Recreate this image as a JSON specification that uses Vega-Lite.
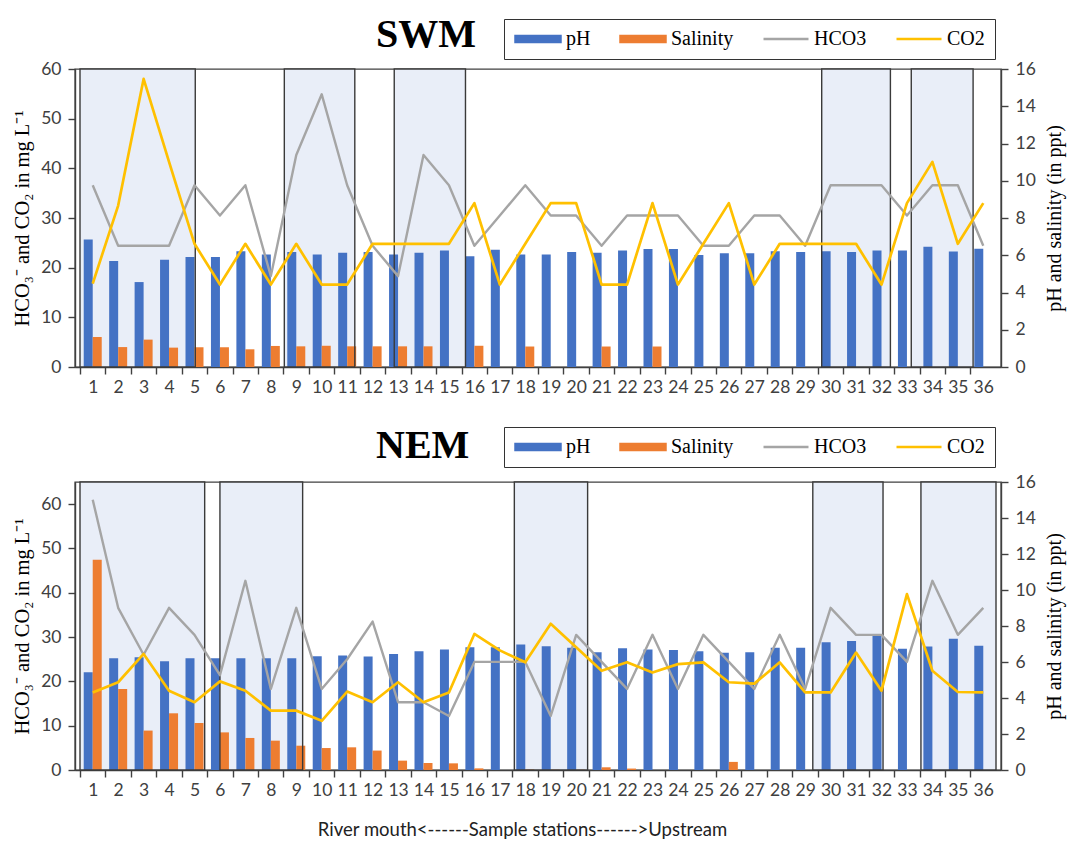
{
  "$schema": "https://vega.github.io/schema/vega-lite/v6.json",
  "padding": {"left": 12, "top": 13, "right": 4, "bottom": 2},
  "background": "white",
  "spacing": 115,
  "bounds": "flush",
  "resolve": {
    "scale": {"x": "independent", "y": "independent", "color": "independent"},
    "axis": {"x": "independent", "y": "independent"},
    "legend": {"color": "independent"}
  },
  "datasets": {
    "swm": [
      {"s": 1, "pH": 6.85, "sal": 1.61, "HCO3": 36.6, "CO2": 16.8},
      {"s": 2, "pH": 5.69, "sal": 1.07, "HCO3": 24.4, "CO2": 32.5},
      {"s": 3, "pH": 4.56, "sal": 1.47, "HCO3": 24.4, "CO2": 58.0},
      {"s": 4, "pH": 5.76, "sal": 1.04, "HCO3": 24.4, "CO2": 41.3},
      {"s": 5, "pH": 5.9, "sal": 1.06, "HCO3": 36.6, "CO2": 24.8},
      {"s": 6, "pH": 5.9, "sal": 1.06, "HCO3": 30.5, "CO2": 16.6},
      {"s": 7, "pH": 6.22, "sal": 0.95, "HCO3": 36.6, "CO2": 24.8},
      {"s": 8, "pH": 6.04, "sal": 1.13, "HCO3": 18.3, "CO2": 16.6},
      {"s": 9, "pH": 6.17, "sal": 1.11, "HCO3": 42.7, "CO2": 24.8},
      {"s": 10, "pH": 6.04, "sal": 1.14, "HCO3": 54.9, "CO2": 16.6},
      {"s": 11, "pH": 6.13, "sal": 1.11, "HCO3": 36.6, "CO2": 16.6},
      {"s": 12, "pH": 6.17, "sal": 1.11, "HCO3": 24.4, "CO2": 24.8},
      {"s": 13, "pH": 6.04, "sal": 1.11, "HCO3": 18.3, "CO2": 24.8},
      {"s": 14, "pH": 6.13, "sal": 1.11, "HCO3": 42.7, "CO2": 24.8},
      {"s": 15, "pH": 6.26, "sal": 0, "HCO3": 36.6, "CO2": 24.8},
      {"s": 16, "pH": 5.95, "sal": 1.14, "HCO3": 24.4, "CO2": 33.0},
      {"s": 17, "pH": 6.29, "sal": 0, "HCO3": 30.5, "CO2": 16.6},
      {"s": 18, "pH": 6.04, "sal": 1.1, "HCO3": 36.6, "CO2": 24.8},
      {"s": 19, "pH": 6.04, "sal": 0, "HCO3": 30.5, "CO2": 33.0},
      {"s": 20, "pH": 6.17, "sal": 0, "HCO3": 30.5, "CO2": 33.0},
      {"s": 21, "pH": 6.13, "sal": 1.1, "HCO3": 24.4, "CO2": 16.6},
      {"s": 22, "pH": 6.26, "sal": 0, "HCO3": 30.5, "CO2": 16.6},
      {"s": 23, "pH": 6.33, "sal": 1.1, "HCO3": 30.5, "CO2": 33.0},
      {"s": 24, "pH": 6.33, "sal": 0, "HCO3": 30.5, "CO2": 16.6},
      {"s": 25, "pH": 6.02, "sal": 0, "HCO3": 24.4, "CO2": 24.8},
      {"s": 26, "pH": 6.11, "sal": 0, "HCO3": 24.4, "CO2": 33.0},
      {"s": 27, "pH": 6.11, "sal": 0, "HCO3": 30.5, "CO2": 16.6},
      {"s": 28, "pH": 6.22, "sal": 0, "HCO3": 30.5, "CO2": 24.8},
      {"s": 29, "pH": 6.17, "sal": 0, "HCO3": 24.4, "CO2": 24.8},
      {"s": 30, "pH": 6.22, "sal": 0, "HCO3": 36.6, "CO2": 24.8},
      {"s": 31, "pH": 6.17, "sal": 0, "HCO3": 36.6, "CO2": 24.8},
      {"s": 32, "pH": 6.26, "sal": 0, "HCO3": 36.6, "CO2": 16.6},
      {"s": 33, "pH": 6.26, "sal": 0, "HCO3": 30.5, "CO2": 33.0},
      {"s": 34, "pH": 6.45, "sal": 0, "HCO3": 36.6, "CO2": 41.3},
      {"s": 35, "pH": 6.2, "sal": 0, "HCO3": 36.6, "CO2": 24.8},
      {"s": 36, "pH": 6.35, "sal": 0, "HCO3": 24.4, "CO2": 33.0}
    ],
    "nem": [
      {"s": 1, "pH": 5.43, "sal": 11.68, "HCO3": 61.0, "CO2": 17.5},
      {"s": 2, "pH": 6.21, "sal": 4.5, "HCO3": 36.6, "CO2": 19.8},
      {"s": 3, "pH": 6.27, "sal": 2.19, "HCO3": 26.0, "CO2": 26.2},
      {"s": 4, "pH": 6.04, "sal": 3.15, "HCO3": 36.6, "CO2": 17.9},
      {"s": 5, "pH": 6.21, "sal": 2.61, "HCO3": 30.5, "CO2": 15.3},
      {"s": 6, "pH": 6.21, "sal": 2.09, "HCO3": 21.4, "CO2": 20.0},
      {"s": 7, "pH": 6.21, "sal": 1.78, "HCO3": 42.7, "CO2": 17.9},
      {"s": 8, "pH": 6.21, "sal": 1.63, "HCO3": 18.3, "CO2": 13.4},
      {"s": 9, "pH": 6.21, "sal": 1.35, "HCO3": 36.6, "CO2": 13.4},
      {"s": 10, "pH": 6.32, "sal": 1.22, "HCO3": 18.3, "CO2": 11.1},
      {"s": 11, "pH": 6.36, "sal": 1.26, "HCO3": 25.0, "CO2": 17.7},
      {"s": 12, "pH": 6.3, "sal": 1.08, "HCO3": 33.5, "CO2": 15.3},
      {"s": 13, "pH": 6.45, "sal": 0.52, "HCO3": 15.3, "CO2": 19.8},
      {"s": 14, "pH": 6.6, "sal": 0.39, "HCO3": 15.3, "CO2": 15.3},
      {"s": 15, "pH": 6.69, "sal": 0.37, "HCO3": 12.2, "CO2": 17.5},
      {"s": 16, "pH": 6.82, "sal": 0.09, "HCO3": 24.4, "CO2": 30.7},
      {"s": 17, "pH": 6.82, "sal": 0, "HCO3": 24.4, "CO2": 27.0},
      {"s": 18, "pH": 6.97, "sal": 0.03, "HCO3": 24.4, "CO2": 24.3},
      {"s": 19, "pH": 6.88, "sal": 0.02, "HCO3": 12.2, "CO2": 33.0},
      {"s": 20, "pH": 6.79, "sal": 0.02, "HCO3": 30.5, "CO2": 27.7},
      {"s": 21, "pH": 6.54, "sal": 0.15, "HCO3": 24.4, "CO2": 22.4},
      {"s": 22, "pH": 6.77, "sal": 0.08, "HCO3": 18.3, "CO2": 24.3},
      {"s": 23, "pH": 6.69, "sal": 0, "HCO3": 30.5, "CO2": 22.0},
      {"s": 24, "pH": 6.67, "sal": 0, "HCO3": 18.3, "CO2": 23.9},
      {"s": 25, "pH": 6.6, "sal": 0, "HCO3": 30.5, "CO2": 24.3},
      {"s": 26, "pH": 6.51, "sal": 0.45, "HCO3": 24.4, "CO2": 19.8},
      {"s": 27, "pH": 6.54, "sal": 0, "HCO3": 18.3, "CO2": 19.5},
      {"s": 28, "pH": 6.79, "sal": 0, "HCO3": 30.5, "CO2": 24.3},
      {"s": 29, "pH": 6.79, "sal": 0, "HCO3": 18.3, "CO2": 17.5},
      {"s": 30, "pH": 7.1, "sal": 0, "HCO3": 36.6, "CO2": 17.5},
      {"s": 31, "pH": 7.16, "sal": 0, "HCO3": 30.5, "CO2": 26.5},
      {"s": 32, "pH": 7.47, "sal": 0, "HCO3": 30.5, "CO2": 17.9},
      {"s": 33, "pH": 6.73, "sal": 0, "HCO3": 24.4, "CO2": 39.7},
      {"s": 34, "pH": 6.86, "sal": 0, "HCO3": 42.7, "CO2": 22.4},
      {"s": 35, "pH": 7.29, "sal": 0, "HCO3": 30.5, "CO2": 17.6},
      {"s": 36, "pH": 6.9, "sal": 0, "HCO3": 36.6, "CO2": 17.5}
    ],
    "swmShade": [
      {"start": 0.5, "end": 5.03},
      {"start": 8.53, "end": 11.3},
      {"start": 12.85, "end": 15.65},
      {"start": 29.65, "end": 32.35},
      {"start": 33.17, "end": 35.6}
    ],
    "nemShade": [
      {"start": 0.5, "end": 5.4},
      {"start": 6.0, "end": 9.25},
      {"start": 17.57, "end": 20.45},
      {"start": 29.3, "end": 32.06},
      {"start": 33.55, "end": 36.5}
    ]
  },
  "vconcat": [
    {
      "width": 926,
      "height": 298,
      "title": {"text": "SWM", "font": "Liberation Serif", "fontSize": 40, "fontWeight": "bold", "color": "#000", "anchor": "start", "frame": "group", "dx": 301, "offset": -36},
      "layer": [
        {
          "data": {"name": "swmShade"},
          "mark": {"type": "rect", "fill": "#E9EEF8", "strokeWidth": 0},
          "encoding": {
            "x": {"field": "start", "type": "quantitative", "scale": {"domain": [0.5, 36.5], "nice": false, "zero": false}},
            "x2": {"field": "end"}
          }
        },
        {
          "data": {"name": "swm"},
          "mark": {"type": "bar", "orient": "vertical", "width": 9, "xOffset": -4.5},
          "encoding": {
            "x": {"field": "s", "type": "quantitative", "scale": {"domain": [0.5, 36.5], "nice": false, "zero": false},
              "axis": {"values": [1,2,3,4,5,6,7,8,9,10,11,12,13,14,15,16,17,18,19,20,21,22,23,24,25,26,27,28,29,30,31,32,33,34,35,36], "tickCount": 40, "tickOffset": -12.861, "labelOffset": 12.861, "labelPadding": 4, "title": null, "labelFlush": false, "labelOverlap": false, "grid": false}},
            "y": {"field": "pH", "type": "quantitative", "scale": {"domain": [0, 16], "nice": false},
              "axis": {"orient": "right", "values": [0,2,4,6,8,10,12,14,16], "tickCount": 10, "title": "pH and salinity (in ppt)", "titleFontSize": 20, "titleAngle": -90, "titleBaseline": "bottom", "titlePadding": 29, "grid": false}},
            "color": {"datum": "pH", "type": "nominal",
              "scale": {"domain": ["pH", "Salinity", "HCO3", "CO2"], "range": ["#4472C4", "#ED7D31", "#A5A5A5", "#FFC000"]},
              "legend": {"orient": "none", "legendX": 429, "legendY": -50, "direction": "horizontal", "title": null,
                "symbolSize": 2025, "symbolStrokeWidth": 2.5, "clipHeight": 20, "strokeColor": "#333", "fillColor": "white", "padding": 10,
                "labelFont": "Liberation Serif", "labelFontSize": 20, "labelColor": "#000", "labelOffset": 4, "columnPadding": 28,
                "encode": {"symbols": {"update": {
                  "shape": {"signal": "datum.value === 'pH' || datum.value === 'Salinity' ? 'M-1,-0.13H1V0.13H-1Z' : 'stroke'"},
                  "fill": {"signal": "datum.value === 'pH' ? '#4472C4' : datum.value === 'Salinity' ? '#ED7D31' : 'transparent'"},
                  "stroke": {"signal": "datum.value === 'pH' ? '#4472C4' : datum.value === 'Salinity' ? '#ED7D31' : datum.value === 'HCO3' ? '#A5A5A5' : '#FFC000'"}
                }}}}}
          }
        },
        {
          "data": {"name": "swm"},
          "mark": {"type": "bar", "orient": "vertical", "width": 9, "xOffset": 4.5},
          "encoding": {
            "x": {"field": "s", "type": "quantitative"},
            "y": {"field": "sal", "type": "quantitative", "scale": {"domain": [0, 16], "nice": false}, "axis": null},
            "color": {"datum": "Salinity", "type": "nominal"}
          }
        },
        {
          "data": {"name": "swmShade"},
          "mark": {"type": "rect", "fill": "transparent", "stroke": "#3a3a3a", "strokeWidth": 1.4},
          "encoding": {
            "x": {"field": "start", "type": "quantitative"},
            "x2": {"field": "end"}
          }
        },
        {
          "data": {"name": "swm"},
          "mark": {"type": "line", "strokeWidth": 2.4, "strokeJoin": "round"},
          "encoding": {
            "x": {"field": "s", "type": "quantitative"},
            "y": {"field": "HCO3", "type": "quantitative", "scale": {"domain": [0, 60], "nice": false},
              "axis": {"orient": "left", "values": [0,10,20,30,40,50,60], "tickCount": 10, "title": "HCO₃⁻ and CO₂ in mg L⁻¹", "titleFontSize": 20.5, "titlePadding": 8, "grid": false}},
            "color": {"datum": "HCO3", "type": "nominal"}
          }
        },
        {
          "data": {"name": "swm"},
          "mark": {"type": "line", "strokeWidth": 2.7, "strokeJoin": "round"},
          "encoding": {
            "x": {"field": "s", "type": "quantitative"},
            "y": {"field": "CO2", "type": "quantitative", "scale": {"domain": [0, 60], "nice": false}, "axis": null},
            "color": {"datum": "CO2", "type": "nominal"}
          }
        }
      ],
      "resolve": {"scale": {"y": "independent"}, "axis": {"y": "independent"}}
    },
    {
      "width": 926,
      "height": 288,
      "title": {"text": "NEM", "font": "Liberation Serif", "fontSize": 40, "fontWeight": "bold", "color": "#000", "anchor": "start", "frame": "group", "dx": 301, "offset": -39},
      "layer": [
        {
          "data": {"name": "nemShade"},
          "mark": {"type": "rect", "fill": "#E9EEF8", "strokeWidth": 0},
          "encoding": {
            "x": {"field": "start", "type": "quantitative", "scale": {"domain": [0.5, 36.5], "nice": false, "zero": false}},
            "x2": {"field": "end"}
          }
        },
        {
          "data": {"name": "nem"},
          "mark": {"type": "bar", "orient": "vertical", "width": 9, "xOffset": -4.5},
          "encoding": {
            "x": {"field": "s", "type": "quantitative", "scale": {"domain": [0.5, 36.5], "nice": false, "zero": false},
              "axis": {"values": [1,2,3,4,5,6,7,8,9,10,11,12,13,14,15,16,17,18,19,20,21,22,23,24,25,26,27,28,29,30,31,32,33,34,35,36], "tickCount": 40, "tickOffset": -12.861, "labelOffset": 12.861, "labelPadding": 4, "title": "River mouth<------Sample stations------>Upstream", "titleFont": "Lato", "titleFontSize": 18.5, "titleFontWeight": "normal", "titleColor": "#222", "titlePadding": 22, "titleX": 447, "labelFlush": false, "labelOverlap": false, "grid": false}},
            "y": {"field": "pH", "type": "quantitative", "scale": {"domain": [0, 16], "nice": false},
              "axis": {"orient": "right", "values": [0,2,4,6,8,10,12,14,16], "tickCount": 10, "title": "pH and salinity (in ppt)", "titleFontSize": 20, "titleAngle": -90, "titleBaseline": "bottom", "titlePadding": 29, "grid": false}},
            "color": {"datum": "pH", "type": "nominal",
              "scale": {"domain": ["pH", "Salinity", "HCO3", "CO2"], "range": ["#4472C4", "#ED7D31", "#A5A5A5", "#FFC000"]},
              "legend": {"orient": "none", "legendX": 429, "legendY": -55, "direction": "horizontal", "title": null,
                "symbolSize": 2025, "symbolStrokeWidth": 2.5, "clipHeight": 20, "strokeColor": "#333", "fillColor": "white", "padding": 10,
                "labelFont": "Liberation Serif", "labelFontSize": 20, "labelColor": "#000", "labelOffset": 4, "columnPadding": 28,
                "encode": {"symbols": {"update": {
                  "shape": {"signal": "datum.value === 'pH' || datum.value === 'Salinity' ? 'M-1,-0.13H1V0.13H-1Z' : 'stroke'"},
                  "fill": {"signal": "datum.value === 'pH' ? '#4472C4' : datum.value === 'Salinity' ? '#ED7D31' : 'transparent'"},
                  "stroke": {"signal": "datum.value === 'pH' ? '#4472C4' : datum.value === 'Salinity' ? '#ED7D31' : datum.value === 'HCO3' ? '#A5A5A5' : '#FFC000'"}
                }}}}}
          }
        },
        {
          "data": {"name": "nem"},
          "mark": {"type": "bar", "orient": "vertical", "width": 9, "xOffset": 4.5},
          "encoding": {
            "x": {"field": "s", "type": "quantitative"},
            "y": {"field": "sal", "type": "quantitative", "scale": {"domain": [0, 16], "nice": false}, "axis": null},
            "color": {"datum": "Salinity", "type": "nominal"}
          }
        },
        {
          "data": {"name": "nemShade"},
          "mark": {"type": "rect", "fill": "transparent", "stroke": "#3a3a3a", "strokeWidth": 1.4},
          "encoding": {
            "x": {"field": "start", "type": "quantitative"},
            "x2": {"field": "end"}
          }
        },
        {
          "data": {"name": "nem"},
          "mark": {"type": "line", "strokeWidth": 2.4, "strokeJoin": "round"},
          "encoding": {
            "x": {"field": "s", "type": "quantitative"},
            "y": {"field": "HCO3", "type": "quantitative", "scale": {"domain": [0, 65], "nice": false},
              "axis": {"orient": "left", "values": [0,10,20,30,40,50,60], "tickCount": 10, "title": "HCO₃⁻ and CO₂ in mg L⁻¹", "titleFontSize": 20.5, "titlePadding": 8, "grid": false}},
            "color": {"datum": "HCO3", "type": "nominal"}
          }
        },
        {
          "data": {"name": "nem"},
          "mark": {"type": "line", "strokeWidth": 2.7, "strokeJoin": "round"},
          "encoding": {
            "x": {"field": "s", "type": "quantitative"},
            "y": {"field": "CO2", "type": "quantitative", "scale": {"domain": [0, 65], "nice": false}, "axis": null},
            "color": {"datum": "CO2", "type": "nominal"}
          }
        }
      ],
      "resolve": {"scale": {"y": "independent"}, "axis": {"y": "independent"}}
    }
  ],
  "config": {
    "font": "Lato",
    "view": {"stroke": "#404040", "strokeWidth": 1.4},
    "axis": {
      "labelFont": "Lato", "labelFontSize": 17.5, "labelColor": "#404040", "labelPadding": 7,
      "labelOverlap": false,
      "domainColor": "#404040", "domainWidth": 1.4, "tickColor": "#404040", "tickWidth": 1.4, "tickSize": 7,
      "titleFont": "Liberation Serif", "titleFontSize": 19, "titleFontWeight": "normal", "titleColor": "#000"
    }
  }
}
